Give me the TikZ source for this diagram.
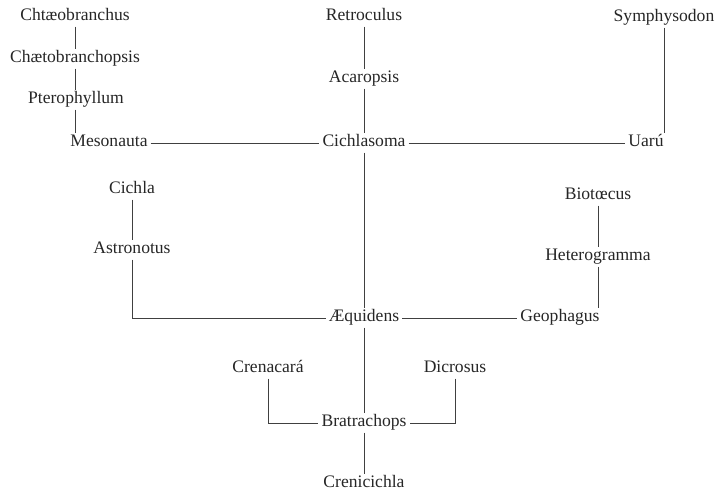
\documentclass[tikz,border=0pt]{standalone}
\usepackage{fontspec}
\setmainfont{Liberation Serif}
\usetikzlibrary{positioning,calc}

\begin{document}
\begin{tikzpicture}[x=0.025cm, y=-0.025cm,
    taxon/.style={inner sep=2pt, text=black!85, font=\fontsize{12.5}{14}\selectfont,
      text height=1.6ex, text depth=.4ex},
    link/.style={draw=black!75, line width=.6pt}]
      \useasboundingbox (0,0) rectangle (718,492);

      % upper row
      \node[taxon] (chtaeo) at (75,17) {Chtæobranchus};
      \node[taxon] (chaeto) at (75,59) {Chætobranchopsis};
      \node[taxon] (ptero) at (76,100) {Pterophyllum};
      \node[taxon] (meso) at (109,143) {Mesonauta};
      \node[taxon] (retro) at (364,17) {Retroculus};
      \node[taxon] (acaro) at (364,79) {Acaropsis};
      \node[taxon] (cichlas) at (364,143) {Cichlasoma};
      \node[taxon] (symph) at (664,18) {Symphysodon};
      \node[taxon] (uaru) at (646,143) {Uarú};

      % middle row
      \node[taxon] (cichla) at (132,190) {Cichla};
      \node[taxon] (astro) at (132,250) {Astronotus};
      \node[taxon] (biot) at (598,196) {Biotœcus};
      \node[taxon] (hetero) at (598,257) {Heterogramma};
      \node[taxon] (aequi) at (364,318) {Æquidens};
      \node[taxon] (geoph) at (560,318) {Geophagus};

      % lower row
      \node[taxon] (crena) at (268,369) {Crenacará};
      \node[taxon] (dicro) at (455,369) {Dicrosus};
      \node[taxon] (bratra) at (364,423) {Bratrachops};
      \node[taxon] (creni) at (364,484) {Crenicichla};

      \draw[link] (chtaeo) -- (chaeto);
      \draw[link] (chaeto.south) -- (chaeto.south |- ptero.north);
      \draw[link] (chaeto.south |- ptero.south) -- (chaeto.south |- meso.north);
      \draw[link] (meso) -- (cichlas);
      \draw[link] (cichlas) -- (uaru);

      \draw[link] (retro) -- (acaro);
      \draw[link] (acaro) -- (cichlas);
      \draw[link] (cichlas) -- (aequi);

      \draw[link] (symph.south) -- (symph.south |- uaru.north);

      \draw[link] (cichla) -- (astro);
      \draw[link] (astro.south) |- (aequi.west);
      \draw[link] (biot) -- (hetero);
      \draw[link] (hetero.south) -- (hetero.south |- geoph.north);
      \draw[link] (aequi) -- (geoph);

      \draw[link] (aequi) -- (bratra);
      \draw[link] (bratra) -- (creni);
      \draw[link] (crena.south) |- (bratra.west);
      \draw[link] (dicro.south) |- (bratra.east);
    \end{tikzpicture}
\end{document}
